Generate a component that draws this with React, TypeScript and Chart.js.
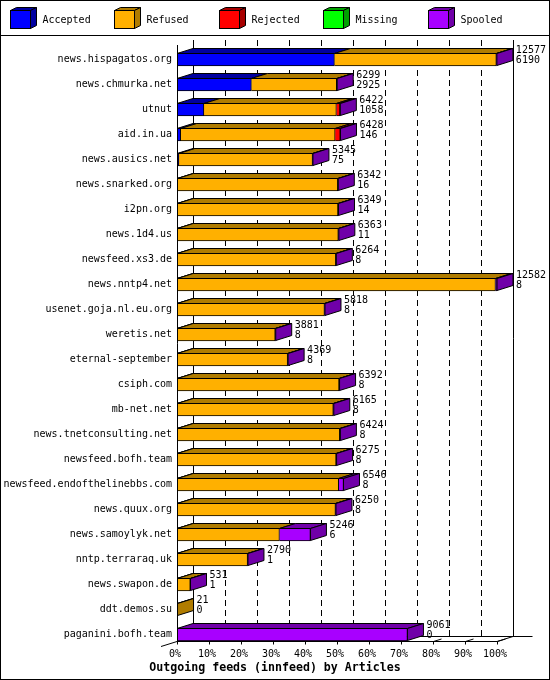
// Outgoing feeds (innfeed) by Articles — 3D stacked horizontal bars.
import { useEffect, useRef } from "react";
import { Chart, registerables } from "chart.js";
import type { Plugin } from "chart.js";

Chart.register(...registerables);

const feeds = [
  "news.hispagatos.org", "news.chmurka.net", "utnut", "aid.in.ua",
  "news.ausics.net", "news.snarked.org", "i2pn.org", "news.1d4.us",
  "newsfeed.xs3.de", "news.nntp4.net", "usenet.goja.nl.eu.org", "weretis.net",
  "eternal-september", "csiph.com", "mb-net.net", "news.tnetconsulting.net",
  "newsfeed.bofh.team", "newsfeed.endofthelinebbs.com", "news.quux.org",
  "news.samoylyk.net", "nntp.terraraq.uk", "news.swapon.de", "ddt.demos.su",
  "paganini.bofh.team",
];

const accepted = [6190, 2925, 1058, 146, 75, 16, 14, 11, 8, 8, 8, 8, 8, 8, 8, 8, 8, 8, 8, 6, 1, 1, 0, 0];
const refused = [6367, 3354, 5209, 6072, 5255, 6306, 6315, 6332, 6236, 12514, 5790, 3853, 4341, 6364, 6137, 6391, 6247, 6348, 6222, 4022, 2774, 520, 21, 0];
const rejected = [0, 0, 140, 200, 0, 0, 0, 0, 0, 0, 0, 0, 0, 0, 0, 0, 0, 0, 0, 0, 0, 0, 0, 0];
const missing = [0, 0, 0, 0, 0, 0, 0, 0, 0, 0, 0, 0, 0, 0, 0, 0, 0, 0, 0, 0, 0, 0, 0, 0];
const spooled = [20, 20, 15, 10, 15, 20, 20, 20, 20, 60, 20, 20, 20, 20, 20, 25, 20, 190, 20, 1218, 15, 10, 0, 9061];

const seriesNames = ["Accepted", "Refused", "Rejected", "Missing", "Spooled"];
const seriesData = [accepted, refused, rejected, missing, spooled];
const percentTicks = [0, 10, 20, 30, 40, 50, 60, 70, 80, 90, 100];

const FRONT = ["#0000ff", "#ffb000", "#ff0000", "#00ff00", "#a800ff"];
const DARK = ["#0000a0", "#b07c00", "#a80000", "#00a000", "#7000a8"];
const MONO = '"DejaVu Sans Mono", "Liberation Mono", monospace';
const DX = 16;
const DY = -5;

const totals = feeds.map((_, i) => seriesData.reduce((s, arr) => s + arr[i], 0));
const maxTotal = Math.max(...totals);
const pct = (v: number) => (v / maxTotal) * 100;

const px = (v: number) => Math.round(v) + 0.5;

function poly(ctx: CanvasRenderingContext2D, pts: number[][], fill: string) {
  ctx.beginPath();
  ctx.moveTo(pts[0][0], pts[0][1]);
  for (let k = 1; k < pts.length; k++) ctx.lineTo(pts[k][0], pts[k][1]);
  ctx.closePath();
  ctx.fillStyle = fill;
  ctx.fill();
  ctx.stroke();
}

function line(ctx: CanvasRenderingContext2D, x0: number, y0: number, x1: number, y1: number) {
  ctx.beginPath();
  ctx.moveTo(x0, y0);
  ctx.lineTo(x1, y1);
  ctx.stroke();
}

const box3d: Plugin<"bar"> = {
  id: "box3d",
  beforeDatasetsDraw(chart) {
    const { ctx, chartArea, scales } = chart;
    const x = scales.x;
    const y = scales.y;
    const floor = y.getPixelForValue(feeds.length - 1) + 6.5;
    const top = chartArea.top - 7;
    ctx.save();
    ctx.strokeStyle = "#000";
    ctx.lineWidth = 1;
    const bl = px(chartArea.left + DX);
    const br = px(chartArea.right + DX);
    const bf = px(floor + DY);
    line(ctx, bl, top, bl, bf);
    line(ctx, br, top, br, bf);
    ctx.setLineDash([6, 4]);
    percentTicks.slice(1, -1).forEach((t) => {
      const gx = px(x.getPixelForValue(t) + DX);
      line(ctx, gx, top, gx, bf);
    });
    ctx.setLineDash([]);
    // floor
    const ff = px(floor);
    line(ctx, bl, bf, br + 19, bf);
    line(ctx, chartArea.left, ff, chartArea.right, ff);
    line(ctx, chartArea.right, ff, chartArea.right + DX, bf);
    line(ctx, chartArea.left - DX, ff + 5, chartArea.left, ff);
    percentTicks.forEach((t) => {
      const tx = px(x.getPixelForValue(t));
      line(ctx, tx, ff, tx, ff + 3);
      line(ctx, tx, ff, tx + DX / 2, ff + DY / 2);
    });
    ctx.restore();
  },
  afterDatasetsDraw(chart) {
    const { ctx, chartArea, scales } = chart;
    const x = scales.x;
    const y = scales.y;
    ctx.save();
    ctx.strokeStyle = "#000";
    ctx.lineWidth = 1;
    feeds.forEach((_, i) => {
      let last: { x0: number; x1: number; yT: number; yB: number; d: number } | null = null;
      seriesData.forEach((__, d) => {
        const el = chart.getDatasetMeta(d).data[i] as any;
        if (!el || seriesData[d][i] === 0) return;
        const p = el.getProps(["x", "y", "base", "height"], true);
        const x0 = Math.min(p.base, p.x);
        const x1 = Math.max(p.base, p.x);
        const yT = p.y - p.height / 2 + 0.5;
        const yB = p.y + p.height / 2 - 0.5;
        poly(ctx, [[x0, yT], [x1, yT], [x1 + DX, yT + DY], [x0 + DX, yT + DY]], DARK[d]);
        last = { x0, x1, yT, yB, d };
      });
      if (last) {
        const l = last as { x0: number; x1: number; yT: number; yB: number; d: number };
        poly(ctx, [[l.x1, l.yT], [l.x1 + DX, l.yT + DY], [l.x1 + DX, l.yB + DY], [l.x1, l.yB]], DARK[l.d]);
      }
      // value labels
      const endPx = x.getPixelForValue(pct(totals[i]));
      const frontTop = y.getPixelForValue(i) - 6.5;
      ctx.fillStyle = "#000";
      ctx.font = `10px ${MONO}`;
      ctx.textAlign = "left";
      ctx.textBaseline = "alphabetic";
      ctx.fillText(String(totals[i]), endPx + 19, frontTop);
      ctx.fillText(String(accepted[i]), endPx + 19, frontTop + 10);
    });
    const floor = y.getPixelForValue(feeds.length - 1) + 6.5;
    line(ctx, px(chartArea.left), chartArea.top - 2, px(chartArea.left), px(floor));
    ctx.restore();
  },
  afterDraw(chart) {
    const { ctx, width, height } = chart;
    ctx.save();
    ctx.strokeStyle = "#000";
    ctx.lineWidth = 1;
    ctx.strokeRect(0.5, 0.5, width - 1, height - 1);
    line(ctx, 0, 35.5, width, 35.5);
    // legend
    seriesNames.forEach((name, d) => {
      const bx = Math.round(9.5 + 104.6 * d) + 0.5;
      const t = 10.5;
      const b = 28.5;
      const w = 20;
      ctx.fillStyle = FRONT[d];
      ctx.fillRect(bx, t, w, b - t);
      ctx.strokeRect(bx, t, w, b - t);
      poly(ctx, [[bx, t], [bx + w, t], [bx + w + 6, t - 3], [bx + 6, t - 3]], DARK[d]);
      poly(ctx, [[bx + w, t], [bx + w + 6, t - 3], [bx + w + 6, b - 3], [bx + w, b]], DARK[d]);
      ctx.fillStyle = "#000";
      ctx.font = `10px ${MONO}`;
      ctx.textAlign = "left";
      ctx.textBaseline = "middle";
      ctx.fillText(name, bx + 32, 20);
    });
    // axis title
    ctx.font = `bold 11.6px ${MONO}`;
    ctx.textAlign = "center";
    ctx.textBaseline = "alphabetic";
    ctx.fillStyle = "#000";
    ctx.fillText("Outgoing feeds (innfeed) by Articles", width / 2, 671);
    ctx.restore();
  },
};

export default function App() {
  const ref = useRef<HTMLCanvasElement>(null);

  useEffect(() => {
    if (!ref.current) return;
    const chart = new Chart(ref.current, {
      type: "bar",
      data: {
        labels: feeds,
        datasets: seriesData.map((arr, d) => ({
          label: seriesNames[d],
          data: arr.map((v) => (v ? pct(v) : null)),
          backgroundColor: FRONT[d],
          borderColor: "#000",
          borderWidth: 1,
          borderSkipped: "start" as const,
          barThickness: 13,
        })),
      },
      options: {
        animation: false,
        responsive: false,
        devicePixelRatio: 1,
        indexAxis: "y",
        layout: { padding: { top: 47, right: 53, bottom: 13, left: 0 } },
        plugins: {
          legend: { display: false },
          tooltip: { enabled: false },
          title: { display: false },
        },
        scales: {
          x: {
            stacked: true,
            min: 0,
            max: 100,
            border: { display: false },
            grid: { display: false, drawTicks: false },
            afterBuildTicks: (s: any) => {
              s.ticks = percentTicks.map((v) => ({ value: v }));
            },
            ticks: {
              callback: (v) => `${v}%`,
              font: { family: MONO, size: 10 },
              color: "#000",
              padding: 1,
              labelOffset: -2,
              maxRotation: 0,
              autoSkip: false,
            },
            afterFit: (s: any) => {
              s.height = 20;
            },
          },
          y: {
            stacked: true,
            border: { display: false },
            grid: { display: false, drawTicks: false },
            ticks: {
              font: { family: MONO, size: 10 },
              color: "#000",
              padding: 5,
              autoSkip: false,
            },
            afterFit: (s: any) => {
              s.width = 177;
            },
          },
        },
      },
      plugins: [box3d],
    });
    return () => chart.destroy();
  }, []);

  return (
    <div style={{ position: "absolute", left: 0, top: 0, width: 550, height: 680, background: "#fff" }}>
      <canvas ref={ref} width={550} height={680} style={{ display: "block" }} />
    </div>
  );
}
